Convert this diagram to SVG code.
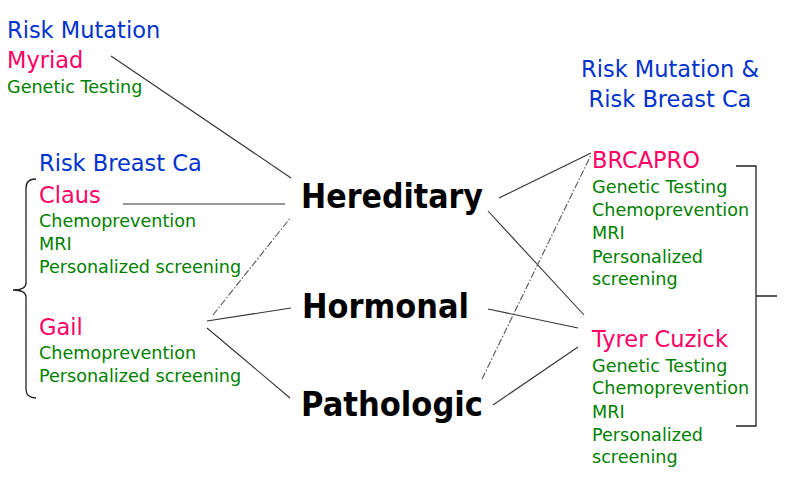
<svg xmlns="http://www.w3.org/2000/svg" width="800" height="477" viewBox="0 0 800 477">
<style>
text{font-family:"DejaVu Sans","Liberation Sans",sans-serif}
.h{font-size:22.5px;fill:#0033cc}
.n{font-size:22.5px;fill:#ff0066}
.g{font-size:17.6px;fill:#008000}
.b{font-size:34px;font-weight:bold;fill:#000}
.c{fill:none;stroke:#333;stroke-width:1.1}
.d{fill:none;stroke:#555;stroke-width:1.1;stroke-dasharray:7 2 1.5 2}
.br{fill:none;stroke:#222;stroke-width:1.3}
</style>
<rect width="800" height="477" fill="#fff"/>
<g id="connectors">
<line class="c" x1="111" y1="56" x2="291" y2="178"/>
<line class="c" x1="123" y1="204" x2="285" y2="204"/>
<line class="d" x1="213" y1="315" x2="291" y2="217"/>
<line class="c" x1="207" y1="321" x2="291" y2="308"/>
<line class="c" x1="207" y1="328" x2="290" y2="398"/>
<line class="c" x1="499" y1="198" x2="591" y2="153"/>
<line class="c" x1="488" y1="211" x2="584" y2="315"/>
<line class="c" x1="488" y1="309" x2="578" y2="328"/>
<line class="c" x1="493" y1="405" x2="578" y2="347"/>
<line class="d" x1="482" y1="379" x2="591" y2="155"/>
</g>
<g id="brace-left">
<path class="br" d="M36,179 Q26,179 26,188 L26,283 Q26,290 13,290 Q26,290 26,297 L26,389 Q26,398 36,398"/>
</g>
<g id="bracket-right">
<path class="br" d="M736,166 H756 V426 H736 M756,296 H777"/>
</g>
<g id="risk-mutation">
<text class="h" x="7" y="38">Risk Mutation</text>
<text class="n" x="7" y="68">Myriad</text>
<text class="g" x="7" y="93">Genetic Testing</text>
</g>
<g id="risk-breast-ca">
<text class="h" x="39" y="171">Risk Breast Ca</text>
</g>
<g id="claus">
<text class="n" x="39" y="203">Claus</text>
<text class="g" x="39" y="227">Chemoprevention</text>
<text class="g" x="39" y="250">MRI</text>
<text class="g" x="39" y="273">Personalized screening</text>
</g>
<g id="gail">
<text class="n" x="39" y="335">Gail</text>
<text class="g" x="39" y="359">Chemoprevention</text>
<text class="g" x="39" y="382">Personalized screening</text>
</g>
<g id="hereditary">
<text class="b" x="301" y="208" textLength="182" lengthAdjust="spacingAndGlyphs">Hereditary</text>
</g>
<g id="hormonal">
<text class="b" x="302" y="318" textLength="167" lengthAdjust="spacingAndGlyphs">Hormonal</text>
</g>
<g id="pathologic">
<text class="b" x="301" y="416" textLength="182" lengthAdjust="spacingAndGlyphs">Pathologic</text>
</g>
<g id="risk-mutation-breast">
<text class="h" x="670" y="77" text-anchor="middle">Risk Mutation &amp;</text>
<text class="h" x="670" y="107" text-anchor="middle">Risk Breast Ca</text>
</g>
<g id="brcapro">
<text class="n" x="592" y="168">BRCAPRO</text>
<text class="g" x="592" y="193">Genetic Testing</text>
<text class="g" x="592" y="216">Chemoprevention</text>
<text class="g" x="592" y="239">MRI</text>
<text class="g" x="592" y="263">Personalized</text>
<text class="g" x="592" y="285">screening</text>
</g>
<g id="tyrer-cuzick">
<text class="n" x="592" y="347">Tyrer Cuzick</text>
<text class="g" x="592" y="372">Genetic Testing</text>
<text class="g" x="592" y="394">Chemoprevention</text>
<text class="g" x="592" y="418">MRI</text>
<text class="g" x="592" y="441">Personalized</text>
<text class="g" x="592" y="463">screening</text>
</g>
</svg>
